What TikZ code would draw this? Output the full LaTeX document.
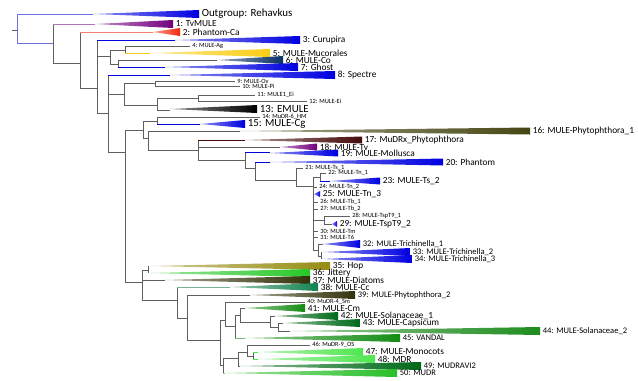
\documentclass[tikz,border=0pt]{standalone}
\usepackage{fontspec}
\setmainfont{Carlito}
\definecolor{gbr}{RGB}{95,95,95}
\definecolor{lav}{RGB}{110,110,225}
\definecolor{blueT}{RGB}{0,0,225}
\definecolor{purpT}{RGB}{115,0,125}
\definecolor{redT}{RGB}{240,40,10}
\definecolor{navyT}{RGB}{10,50,100}
\definecolor{yelT}{RGB}{250,205,20}
\definecolor{oliveD}{RGB}{70,70,20}
\definecolor{maroonT}{RGB}{70,10,10}
\definecolor{hopT}{RGB}{150,140,20}
\definecolor{jitT}{RGB}{40,200,40}
\definecolor{diaT}{RGB}{50,50,10}
\definecolor{ccT}{RGB}{20,130,80}
\definecolor{cmT}{RGB}{20,140,20}
\definecolor{dgT}{RGB}{0,105,25}
\definecolor{sol2T}{RGB}{30,140,30}
\definecolor{lgT}{RGB}{80,230,80}
\definecolor{mudrT}{RGB}{40,190,40}
\newcommand{\fbig}{\fontsize{8.2}{9}\selectfont}
\newcommand{\fmid}{\fontsize{7.0}{8}\selectfont}
\newcommand{\fsml}{\fontsize{6.4}{7}\selectfont}
\newcommand{\ftny}{\fontsize{4.8}{5}\selectfont}
\newcommand{\clade}[8]{%
  \shade[left color=#6!45, right color=#6] (#3,#2) -- (#4,#2-#5) -- (#4,#2+#5) -- cycle;
  \node[lab,font=#7] (#1) at (#4+2.5,#2) {#8};}
\newcommand{\tipl}[5]{\node[lab,font=#4] (#1) at (#3+2,#2) {#5};}
\begin{document}
\begin{tikzpicture}[x=0.75pt,y=-0.75pt,
  br/.style={draw=gbr,line width=0.55pt},
  cb/.style={draw=#1,line width=0.55pt},
  lab/.style={anchor=west,inner sep=0pt,text=black}]
\fill[white] (0,0) rectangle (638,380);
\useasboundingbox (0,0) rectangle (638,380);
% ---- branches: top part
\draw[br] (12,30) -- (17,30);
\draw[cb=lav] (17,14) -- (17,43);
\draw[cb=lav] (17,14) -- (93,14);
\draw[cb=lav] (17,43) -- (53,43);
\draw[br] (53,24) -- (53,63);
\draw[cb=purpT!55] (53,24) -- (95,24);
\draw[br] (53,63) -- (80,63);
\draw[br] (80,32) -- (80,88);
\draw[cb=redT!60] (80,32) -- (153,32);
\draw[br] (80,88) -- (97,88);
\draw[br] (97,40) -- (97,113);
\draw[cb=blueT] (97,40) -- (175,40);
\draw[br] (97,56) -- (110,56);
\draw[br] (110,50) -- (110,64);
\draw[br] (110,50) -- (125,50);
\draw[br] (125,46) -- (125,53);
\draw[br] (125,46) -- (190,46);
\draw[cb=yelT] (125,53) -- (150,53);
\draw[br] (110,64) -- (118,64);
\draw[br] (118,60) -- (118,67);
\draw[br] (118,60) -- (217,60);
\draw[cb=blueT] (118,67) -- (165,67);
\draw[br] (97,113) -- (108,113);
\draw[br] (108,75) -- (108,152);
\draw[cb=blueT] (108,75) -- (170,75);
\draw[br] (108,94) -- (124,94);
\draw[br] (124,83) -- (124,105);
\draw[br] (124,83) -- (155,83);
\draw[br] (155,81) -- (155,86);
\draw[br] (155,81) -- (235,81);
\draw[br] (155,86) -- (240,86);
\draw[br] (124,105) -- (157,105);
\draw[br] (157,98) -- (157,110);
\draw[br] (157,98) -- (198,98);
\draw[br] (198,95) -- (198,101);
\draw[br] (198,95) -- (255,95);
\draw[br] (198,101) -- (307,101);
\draw[br] (157,110) -- (170,110);
% ---- middle part
\draw[br] (108,152) -- (125,152);
\draw[br] (125,130) -- (125,282);
\draw[br] (125,130) -- (143,130);
\draw[br] (143,121) -- (143,138);
\draw[br] (143,121) -- (157,121);
\draw[br] (157,117) -- (157,124);
\draw[br] (157,117) -- (260,117);
\draw[cb=blueT] (157,124) -- (200,124);
\draw[br] (143,138) -- (148,138);
\draw[br] (148,131) -- (148,150);
\draw[br] (148,131) -- (240,131);
\draw[br] (148,150) -- (198,150);
\draw[br] (198,140) -- (198,160);
\draw[cb=maroonT] (198,140) -- (245,140);
\draw[br] (198,147) -- (280,147);
\draw[br] (198,160) -- (245,160);
\draw[br] (245,152) -- (245,168);
\draw[cb=blueT] (245,152) -- (270,152);
\draw[br] (245,168) -- (255,168);
\draw[br] (255,162) -- (255,180);
\draw[cb=blueT] (255,162) -- (270,162);
\draw[br] (255,180) -- (296,180);
\draw[br] (296,168) -- (296,186);
\draw[br] (296,168) -- (303,168);
\draw[br] (296,186) -- (313,186);
\draw[br] (313,177) -- (313,250);
\draw[br] (313,177) -- (320,177);
\draw[br] (320,173) -- (320,181);
\draw[br] (320,173) -- (326,173);
\draw[cb=blueT] (320,181) -- (330,181);
\draw[br] (313,187) -- (317,187);
\draw[br] (313,202) -- (318,202);
\draw[br] (313,209) -- (318,209);
\draw[br] (313,220) -- (324,220);
\draw[br] (324,216) -- (324,224);
\draw[br] (324,216) -- (350,216);
\draw[br] (324,224) -- (332,224);
\draw[br] (313,231) -- (318,231);
\draw[br] (313,237) -- (318,237);
\draw[br] (313,250) -- (318,250);
\draw[br] (318,244) -- (318,256);
\draw[br] (318,244) -- (323,244);
\draw[br] (318,256) -- (321,256);
\draw[br] (321,252) -- (321,259);
% ---- lower part
\draw[br] (125,282) -- (142,282);
\draw[br] (142,270) -- (142,300);
\draw[br] (142,270) -- (148,270);
\draw[br] (148,266) -- (148,273);
\draw[br] (142,280) -- (165,280);
\draw[br] (142,300) -- (177,300);
\draw[br] (177,287) -- (177,318);
\draw[cb=ccT!60] (177,287) -- (230,287);
\draw[br] (177,318) -- (187,318);
\draw[br] (187,295) -- (187,340);
\draw[br] (187,295) -- (250,295);
\draw[br] (187,340) -- (220,340);
\draw[br] (220,320) -- (220,365);
\draw[br] (220,320) -- (225,320);
\draw[br] (225,302) -- (225,326);
\draw[br] (225,302) -- (305,302);
\draw[br] (225,326) -- (235,326);
\draw[br] (235,315) -- (235,338);
\draw[cb=cmT!60] (235,338) -- (245,338);
\draw[br] (235,315) -- (240,315);
\draw[br] (240,308) -- (240,322);
\draw[br] (240,308) -- (245,308);
\draw[br] (240,322) -- (270,322);
\draw[br] (270,316) -- (270,327);
\draw[br] (270,316) -- (275,316);
\draw[br] (270,327) -- (278,327);
\draw[br] (278,323) -- (278,331);
\draw[br] (278,323) -- (283,323);
\draw[br] (278,331) -- (290,331);
\draw[br] (220,365) -- (223,365);
\draw[br] (223,358) -- (223,373);
\draw[cb=mudrT!60] (223,373) -- (225,373);
\draw[br] (223,358) -- (238,358);
\draw[br] (238,352) -- (238,366);
\draw[br] (238,366) -- (240,366);
\draw[br] (238,352) -- (247,352);
\draw[br] (247,345) -- (247,356);
\draw[br] (247,345) -- (310,345);
\draw[br] (247,356) -- (253,356);
\draw[br] (253,352) -- (253,359);
\draw[cb=lgT] (253,352) -- (258,352);
\draw[cb=lgT] (253,359) -- (258,359);
% ---- collapsed clades and tips
\clade{c0}{14}{93}{199}{4}{blueT}{\fbig}{Outgroup: Rehavkus}
\clade{c1}{24}{95}{173}{4}{purpT}{\fmid}{1: TvMULE}
\clade{c2}{32}{153}{180}{4}{redT}{\fmid}{2: Phantom-Ca}
\clade{c3}{40}{175}{300}{4}{blueT}{\fmid}{3: Curupira}
\tipl{c4}{46}{190}{\ftny}{4: MULE-Ag}
\clade{c5}{53}{150}{270}{4}{yelT}{\fmid}{5: MULE-Mucorales}
\clade{c6}{60}{217}{283}{4}{navyT}{\fmid}{6: MULE-Co}
\clade{c7}{67}{165}{298}{4}{blueT}{\fmid}{7: Ghost}
\clade{c8}{75}{170}{335}{4}{blueT}{\fmid}{8: Spectre}
\tipl{c9}{81}{235}{\ftny}{9: MULE-Ov}
\tipl{c10}{86}{240}{\ftny}{10: MULE-Pi}
\tipl{c11}{95}{255}{\ftny}{11: MULE1\_Ei}
\tipl{c12}{101}{307}{\ftny}{12: MULE-Ei}
\clade{c13}{109}{170}{257}{4}{black}{\fbig}{13: EMULE}
\tipl{c14}{117}{260}{\ftny}{14: MuDR-6\_HM}
\clade{c15}{124}{200}{245}{4}{blueT}{\fbig}{15: MULE-Cg}
\clade{c16}{131}{240}{530}{3.5}{oliveD}{\fmid}{16: MULE-Phytophthora\_1}
\clade{c17}{140}{245}{362}{3.5}{maroonT}{\fmid}{17: MuDRx\_Phytophthora}
\clade{c18}{147}{280}{317}{3.5}{purpT}{\fmid}{18: MULE-Tv}
\clade{c19}{153}{270}{338}{3.5}{blueT}{\fmid}{19: MULE-Mollusca}
\clade{c20}{162}{270}{443}{3.5}{blueT}{\fmid}{20: Phantom}
\tipl{c21}{168}{303}{\ftny}{21: MULE-Ts\_1}
\tipl{c22}{173}{326}{\ftny}{22: MULE-Tn\_1}
\clade{c23}{181}{330}{380}{3.5}{blueT}{\fmid}{23: MULE-Ts\_2}
\tipl{c24}{187}{317}{\ftny}{24: MULE-Tn\_2}
\clade{c25}{194}{314}{320}{3}{blueT}{\fmid}{25: MULE-Tn\_3}
\tipl{c26}{202}{318}{\ftny}{26: MULE-Tb\_1}
\tipl{c27}{209}{318}{\ftny}{27: MULE-Tb\_2}
\tipl{c28}{216}{350}{\ftny}{28: MULE-TspT9\_1}
\clade{c29}{224}{332}{337}{3}{blueT}{\fmid}{29: MULE-TspT9\_2}
\tipl{c30}{231}{318}{\ftny}{30: MULE-Tm}
\tipl{c31}{237}{318}{\ftny}{31: MULE-T6}
\clade{c32}{244}{323}{360}{4}{blueT}{\fsml}{32: MULE-Trichinella\_1}
\clade{c33}{252}{323}{410}{4}{blueT}{\fsml}{33: MULE-Trichinella\_2}
\clade{c34}{259}{322}{412}{4}{blueT}{\fsml}{34: MULE-Trichinella\_3}
\clade{c35}{266}{150}{330}{4}{hopT}{\fmid}{35: Hop}
\clade{c36}{273}{150}{310}{4}{jitT}{\fmid}{36: Jittery}
\clade{c37}{280}{165}{310}{4}{diaT}{\fmid}{37: MULE-Diatoms}
\clade{c38}{287}{230}{318}{4}{ccT}{\fmid}{38: MULE-Cc}
\clade{c39}{295}{250}{355}{4}{diaT}{\fsml}{39: MULE-Phytophthora\_2}
\tipl{c40}{302}{305}{\ftny}{40: MuDR-4\_Sm}
\clade{c41}{308}{245}{305}{4}{cmT}{\fmid}{41: MULE-Cm}
\clade{c42}{316}{275}{338}{4}{dgT}{\fmid}{42: MULE-Solanaceae\_1}
\clade{c43}{323}{283}{360}{4}{dgT}{\fmid}{43: MULE-Capsicum}
\clade{c44}{331}{290}{540}{4}{sol2T}{\fsml}{44: MULE-Solanaceae\_2}
\clade{c45}{338}{245}{400}{4}{cmT}{\fsml}{45: VANDAL}
\tipl{c46}{345}{310}{\ftny}{46: MuDR-9\_OS}
\clade{c47}{352}{258}{363}{4}{lgT}{\fmid}{47: MULE-Monocots}
\clade{c48}{359}{258}{375}{4}{lgT}{\fmid}{48: MDR}
\clade{c49}{366}{240}{421}{4}{dgT}{\fsml}{49: MUDRAVI2}
\clade{c50}{373}{225}{397}{4}{mudrT}{\fsml}{50: MUDR}
\end{tikzpicture}
\end{document}
